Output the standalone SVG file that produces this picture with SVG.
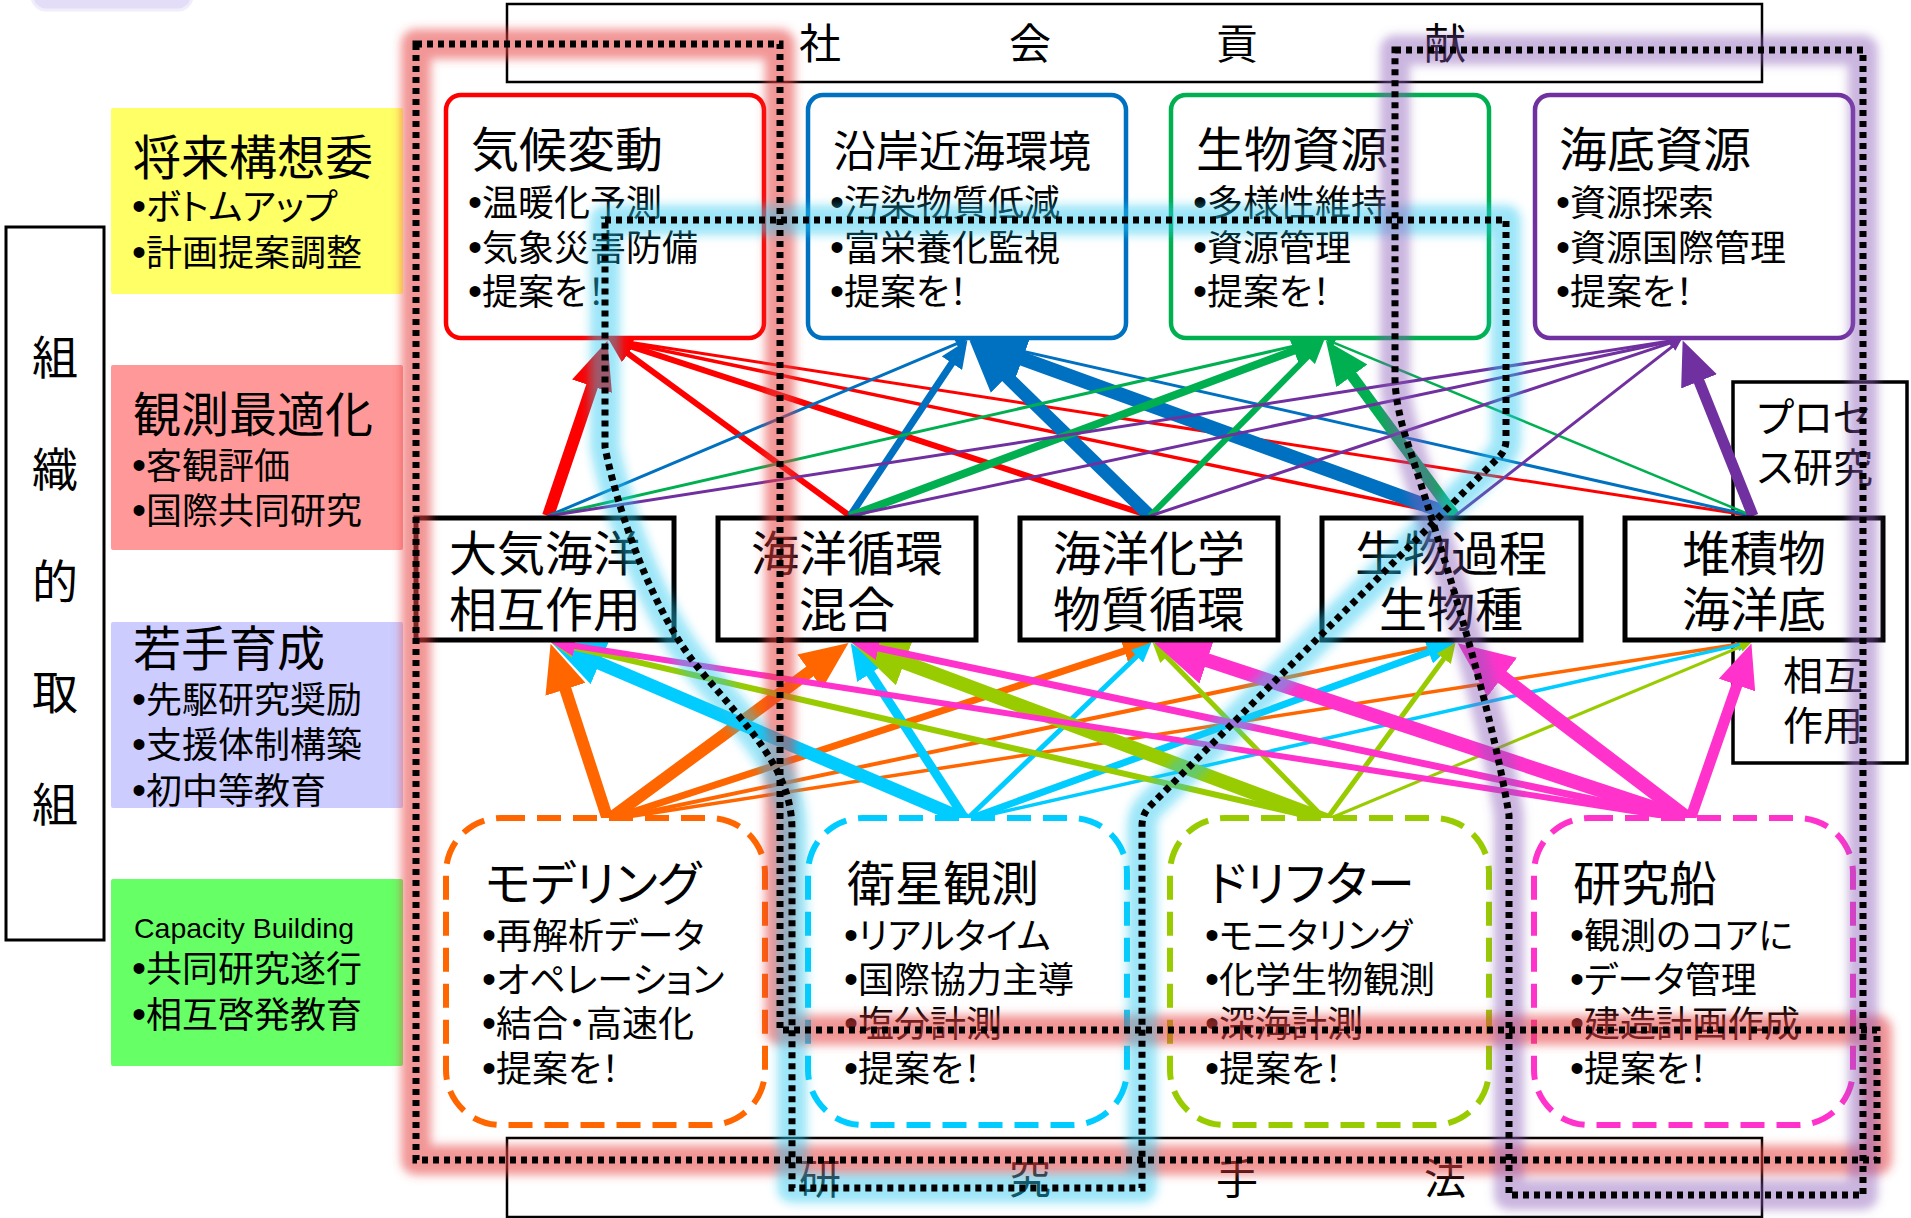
<svg xmlns="http://www.w3.org/2000/svg" width="1911" height="1218" viewBox="0 0 1911 1218">
<defs>
<style>
.t{font-family:"Noto Sans CJK JP","Noto Sans CJK SC",sans-serif;font-feature-settings:"palt";fill:#000}
.bu{font-family:"Liberation Sans",Arial,sans-serif;font-size:40px}
.h{font-size:48px}
.b{font-size:36px}
.m{font-size:48px;text-anchor:middle}
.bn{font-size:42px;text-anchor:middle}
.lb{font-size:46px;text-anchor:middle}
.ps{font-size:40px}
.lat{font-family:"Liberation Sans",Arial,sans-serif;font-size:28px;fill:#000}
.tn{fill:#fff;stroke-width:4.5}
.bnode{fill:#fff;stroke-width:6;stroke-dasharray:24 12}
.mid{fill:#fff;stroke:#000;stroke-width:5}
.frame{fill:#fff;stroke:#000;stroke-width:2.5}
.c{fill:none;stroke-linecap:butt}
.red{stroke:#FF0000;marker-end:url(#ah-red)}
.blue{stroke:#0070C0;marker-end:url(#ah-blue)}
.green{stroke:#00B050;marker-end:url(#ah-green)}
.purple{stroke:#7030A0;marker-end:url(#ah-purple)}
.orange{stroke:#FF6600;marker-end:url(#ah-orange)}
.cyan{stroke:#00CCFF;marker-end:url(#ah-cyan)}
.yg{stroke:#99CC00;marker-end:url(#ah-yg)}
.mag{stroke:#FF33CC;marker-end:url(#ah-mag)}
.glow{fill:none;stroke-width:30;stroke-linejoin:round;filter:url(#blur)}
.dot{fill:none;stroke:#000;stroke-width:7;stroke-dasharray:6 5}
</style>
<filter id="blur" x="-10%" y="-10%" width="120%" height="120%"><feGaussianBlur stdDeviation="5"/></filter>
<marker id="ah-red" viewBox="0 0 8 7" refX="0.3" refY="3.5" markerWidth="4" markerHeight="3.5" markerUnits="strokeWidth" orient="auto"><path d="M0,0 L8,3.5 L0,7 z" fill="#FF0000"/></marker>
<marker id="ah-blue" viewBox="0 0 8 7" refX="0.3" refY="3.5" markerWidth="4" markerHeight="3.5" markerUnits="strokeWidth" orient="auto"><path d="M0,0 L8,3.5 L0,7 z" fill="#0070C0"/></marker>
<marker id="ah-green" viewBox="0 0 8 7" refX="0.3" refY="3.5" markerWidth="4" markerHeight="3.5" markerUnits="strokeWidth" orient="auto"><path d="M0,0 L8,3.5 L0,7 z" fill="#00B050"/></marker>
<marker id="ah-purple" viewBox="0 0 8 7" refX="0.3" refY="3.5" markerWidth="4" markerHeight="3.5" markerUnits="strokeWidth" orient="auto"><path d="M0,0 L8,3.5 L0,7 z" fill="#7030A0"/></marker>
<marker id="ah-orange" viewBox="0 0 8 7" refX="0.3" refY="3.5" markerWidth="4" markerHeight="3.5" markerUnits="strokeWidth" orient="auto"><path d="M0,0 L8,3.5 L0,7 z" fill="#FF6600"/></marker>
<marker id="ah-cyan" viewBox="0 0 8 7" refX="0.3" refY="3.5" markerWidth="4" markerHeight="3.5" markerUnits="strokeWidth" orient="auto"><path d="M0,0 L8,3.5 L0,7 z" fill="#00CCFF"/></marker>
<marker id="ah-yg" viewBox="0 0 8 7" refX="0.3" refY="3.5" markerWidth="4" markerHeight="3.5" markerUnits="strokeWidth" orient="auto"><path d="M0,0 L8,3.5 L0,7 z" fill="#99CC00"/></marker>
<marker id="ah-mag" viewBox="0 0 8 7" refX="0.3" refY="3.5" markerWidth="4" markerHeight="3.5" markerUnits="strokeWidth" orient="auto"><path d="M0,0 L8,3.5 L0,7 z" fill="#FF33CC"/></marker>
</defs>
<rect width="1911" height="1218" fill="#fff"/>

<!-- top-left partial shape -->
<rect x="32" y="-25" width="160" height="35" rx="14" fill="#E4DDF8" stroke="#F1EEFC" stroke-width="3"/>

<!-- banners -->
<g id="banner-top">
<rect class="frame" x="507" y="4" width="1255" height="78"/>
<text class="t bn" x="820" y="59">社</text>
<text class="t bn" x="1030" y="59">会</text>
<text class="t bn" x="1237" y="59">貢</text>
<text class="t bn" x="1445" y="59">献</text>
</g>
<g id="banner-bottom">
<rect class="frame" x="507" y="1138" width="1255" height="79"/>
<text class="t bn" x="820" y="1194">研</text>
<text class="t bn" x="1030" y="1194">究</text>
<text class="t bn" x="1237" y="1194">手</text>
<text class="t bn" x="1445" y="1194">法</text>
</g>

<!-- left vertical label -->
<g id="soshiki">
<rect x="6" y="227" width="98" height="713" fill="#fff" stroke="#000" stroke-width="3"/>
<text class="t lb" x="55" y="374">組</text>
<text class="t lb" x="55" y="486">織</text>
<text class="t lb" x="55" y="598">的</text>
<text class="t lb" x="55" y="709">取</text>
<text class="t lb" x="55" y="821">組</text>
</g>

<!-- side panels -->
<g id="p-shorai">
<rect x="111" y="108" width="292" height="186" rx="2" fill="#FFFF66"/>
<text class="t h" x="133" y="175">将来構想委</text>
<text class="t b" x="132" y="220"><tspan class="bu">•</tspan>ボトムアップ</text>
<text class="t b" x="132" y="266"><tspan class="bu">•</tspan>計画提案調整</text>
</g>
<g id="p-kansoku">
<rect x="111" y="365" width="292" height="185" rx="2" fill="#FF9999"/>
<text class="t h" x="133" y="432">観測最適化</text>
<text class="t b" x="132" y="479"><tspan class="bu">•</tspan>客観評価</text>
<text class="t b" x="132" y="524"><tspan class="bu">•</tspan>国際共同研究</text>
</g>
<g id="p-wakate">
<rect x="111" y="622" width="292" height="186" rx="2" fill="#CCCCFF"/>
<text class="t h" x="133" y="666">若手育成</text>
<text class="t b" x="132" y="713"><tspan class="bu">•</tspan>先駆研究奨励</text>
<text class="t b" x="132" y="758"><tspan class="bu">•</tspan>支援体制構築</text>
<text class="t b" x="132" y="804"><tspan class="bu">•</tspan>初中等教育</text>
</g>
<g id="p-capacity">
<rect x="111" y="879" width="292" height="187" rx="2" fill="#66FF66"/>
<text class="lat" x="134" y="938" textLength="220" lengthAdjust="spacingAndGlyphs">Capacity Building</text>
<text class="t b" x="132" y="982"><tspan class="bu">•</tspan>共同研究遂行</text>
<text class="t b" x="132" y="1028"><tspan class="bu">•</tspan>相互啓発教育</text>
</g>

<!-- process side box -->
<g id="process">
<rect x="1733" y="382" width="174" height="381" fill="#fff" stroke="#000" stroke-width="3.5"/>
<text class="t ps" x="1757" y="432">プロセ</text>
<text class="t ps" x="1757" y="482">ス研究</text>
<text class="t ps" x="1783" y="690">相互</text>
<text class="t ps" x="1783" y="740">作用</text>
</g>

<!-- connectors -->
<g id="connectors" class="c">
<line class="red" x1="548" y1="516" x2="592.6" y2="384.5" stroke-width="12"/>
<line class="red" x1="850" y1="516" x2="627.4" y2="353.2" stroke-width="6"/>
<line class="red" x1="1150" y1="516" x2="630.8" y2="346.4" stroke-width="6"/>
<line class="red" x1="1455" y1="516" x2="621.7" y2="341.9" stroke-width="3.5"/>
<line class="red" x1="1753" y1="516" x2="619.9" y2="340.8" stroke-width="3"/>
<line class="blue" x1="548" y1="516" x2="956.9" y2="343.7" stroke-width="3"/>
<line class="blue" x1="850" y1="516" x2="952.5" y2="362.3" stroke-width="7"/>
<line class="blue" x1="1150" y1="516" x2="1005.3" y2="375.2" stroke-width="13"/>
<line class="blue" x1="1455" y1="516" x2="1020.6" y2="358.1" stroke-width="14"/>
<line class="blue" x1="1753" y1="516" x2="979.7" y2="341.6" stroke-width="3"/>
<line class="green" x1="548" y1="516" x2="1313.3" y2="341.7" stroke-width="3"/>
<line class="green" x1="850" y1="516" x2="1295.0" y2="350.2" stroke-width="8"/>
<line class="green" x1="1150" y1="516" x2="1308.1" y2="356.1" stroke-width="6"/>
<line class="green" x1="1455" y1="516" x2="1351.0" y2="374.5" stroke-width="11"/>
<line class="green" x1="1753" y1="516" x2="1334.2" y2="342.8" stroke-width="2.5"/>
<line class="purple" x1="548" y1="516" x2="1670.1" y2="340.9" stroke-width="3"/>
<line class="purple" x1="850" y1="516" x2="1670.3" y2="341.5" stroke-width="3"/>
<line class="purple" x1="1150" y1="516" x2="1670.6" y2="342.8" stroke-width="3"/>
<line class="purple" x1="1455" y1="516" x2="1672.5" y2="346.4" stroke-width="3"/>
<line class="purple" x1="1753" y1="516" x2="1698.4" y2="379.8" stroke-width="11"/>

<line class="orange" x1="608" y1="820" x2="564.9" y2="687.6" stroke-width="12"/>
<line class="orange" x1="608" y1="820" x2="811.3" y2="670.4" stroke-width="12"/>
<line class="orange" x1="608" y1="820" x2="1125.4" y2="650.7" stroke-width="7"/>
<line class="orange" x1="608" y1="820" x2="1440.3" y2="645.3" stroke-width="4"/>
<line class="orange" x1="608" y1="820" x2="1738.2" y2="644.2" stroke-width="3.5"/>
<line class="cyan" x1="966" y1="820" x2="597.8" y2="662.5" stroke-width="13"/>
<line class="cyan" x1="966" y1="820" x2="869.7" y2="672.2" stroke-width="9"/>
<line class="cyan" x1="966" y1="820" x2="1137.5" y2="655.8" stroke-width="5"/>
<line class="cyan" x1="966" y1="820" x2="1429.7" y2="651.6" stroke-width="7"/>
<line class="cyan" x1="966" y1="820" x2="1738.3" y2="645.1" stroke-width="3.5"/>
<line class="yg" x1="1326" y1="820" x2="573.4" y2="647.4" stroke-width="6"/>
<line class="yg" x1="1326" y1="820" x2="902.5" y2="661.6" stroke-width="14"/>
<line class="yg" x1="1326" y1="820" x2="1166.0" y2="656.3" stroke-width="5"/>
<line class="yg" x1="1326" y1="820" x2="1444.2" y2="658.2" stroke-width="5"/>
<line class="yg" x1="1326" y1="820" x2="1740.9" y2="646.6" stroke-width="3"/>
<line class="mag" x1="1690" y1="820" x2="573.7" y2="645.7" stroke-width="6"/>
<line class="mag" x1="1690" y1="820" x2="877.4" y2="647.8" stroke-width="7"/>
<line class="mag" x1="1690" y1="820" x2="1205.2" y2="659.6" stroke-width="14"/>
<line class="mag" x1="1690" y1="820" x2="1500.6" y2="675.9" stroke-width="14"/>
<line class="mag" x1="1690" y1="820" x2="1737.5" y2="683.5" stroke-width="11"/>
</g>

<!-- middle process boxes -->
<g id="m-taiki"><rect class="mid" x="416" y="518" width="258" height="122"/>
<text class="t m" x="545" y="571">大気海洋</text><text class="t m" x="545" y="627">相互作用</text></g>
<g id="m-junkan"><rect class="mid" x="718" y="518" width="258" height="122"/>
<text class="t m" x="847" y="571">海洋循環</text><text class="t m" x="847" y="627">混合</text></g>
<g id="m-kagaku"><rect class="mid" x="1020" y="518" width="258" height="122"/>
<text class="t m" x="1149" y="571">海洋化学</text><text class="t m" x="1149" y="627">物質循環</text></g>
<g id="m-seibutsu"><rect class="mid" x="1322" y="518" width="259" height="122"/>
<text class="t m" x="1451" y="571">生物過程</text><text class="t m" x="1451" y="627">生物種</text></g>
<g id="m-taiseki"><rect class="mid" x="1625" y="518" width="258" height="122"/>
<text class="t m" x="1754" y="571">堆積物</text><text class="t m" x="1754" y="627">海洋底</text></g>

<!-- top nodes -->
<g id="n-kikou"><rect class="tn" x="446" y="95" width="318" height="243" rx="15" stroke="#FF0000"/>
<text class="t h" x="471" y="167">気候変動</text>
<text class="t b" x="468" y="216"><tspan class="bu">•</tspan>温暖化予測</text>
<text class="t b" x="468" y="261"><tspan class="bu">•</tspan>気象災害防備</text>
<text class="t b" x="468" y="305"><tspan class="bu">•</tspan>提案を！</text></g>
<g id="n-engan"><rect class="tn" x="808" y="95" width="318" height="243" rx="15" stroke="#0070C0"/>
<text class="t h" x="833" y="167" style="font-size:43px">沿岸近海環境</text>
<text class="t b" x="830" y="216"><tspan class="bu">•</tspan>汚染物質低減</text>
<text class="t b" x="830" y="261"><tspan class="bu">•</tspan>富栄養化監視</text>
<text class="t b" x="830" y="305"><tspan class="bu">•</tspan>提案を！</text></g>
<g id="n-seibutsu"><rect class="tn" x="1171" y="95" width="318" height="243" rx="15" stroke="#00B050"/>
<text class="t h" x="1196" y="167">生物資源</text>
<text class="t b" x="1193" y="216"><tspan class="bu">•</tspan>多様性維持</text>
<text class="t b" x="1193" y="261"><tspan class="bu">•</tspan>資源管理</text>
<text class="t b" x="1193" y="305"><tspan class="bu">•</tspan>提案を！</text></g>
<g id="n-kaitei"><rect class="tn" x="1535" y="95" width="318" height="243" rx="15" stroke="#7030A0"/>
<text class="t h" x="1559" y="167">海底資源</text>
<text class="t b" x="1556" y="216"><tspan class="bu">•</tspan>資源探索</text>
<text class="t b" x="1556" y="261"><tspan class="bu">•</tspan>資源国際管理</text>
<text class="t b" x="1556" y="305"><tspan class="bu">•</tspan>提案を！</text></g>

<!-- bottom nodes -->
<g id="n-model"><rect class="bnode" x="446" y="818" width="319" height="307" rx="55" stroke="#FF6600"/>
<text class="t h" x="485" y="901">モデリング</text>
<text class="t b" x="482" y="949"><tspan class="bu">•</tspan>再解析データ</text>
<text class="t b" x="482" y="993"><tspan class="bu">•</tspan>オペレーション</text>
<text class="t b" x="482" y="1037"><tspan class="bu">•</tspan>結合・高速化</text>
<text class="t b" x="482" y="1082"><tspan class="bu">•</tspan>提案を！</text></g>
<g id="n-eisei"><rect class="bnode" x="808" y="818" width="319" height="307" rx="55" stroke="#00CCFF"/>
<text class="t h" x="847" y="901">衛星観測</text>
<text class="t b" x="844" y="949"><tspan class="bu">•</tspan>リアルタイム</text>
<text class="t b" x="844" y="993"><tspan class="bu">•</tspan>国際協力主導</text>
<text class="t b" x="844" y="1037"><tspan class="bu">•</tspan>塩分計測</text>
<text class="t b" x="844" y="1082"><tspan class="bu">•</tspan>提案を！</text></g>
<g id="n-drifter"><rect class="bnode" x="1170" y="818" width="319" height="307" rx="55" stroke="#99CC00"/>
<text class="t h" x="1208" y="901">ドリフター</text>
<text class="t b" x="1205" y="949"><tspan class="bu">•</tspan>モニタリング</text>
<text class="t b" x="1205" y="993"><tspan class="bu">•</tspan>化学生物観測</text>
<text class="t b" x="1205" y="1037"><tspan class="bu">•</tspan>深海計測</text>
<text class="t b" x="1205" y="1082"><tspan class="bu">•</tspan>提案を！</text></g>
<g id="n-ship"><rect class="bnode" x="1534" y="818" width="319" height="307" rx="55" stroke="#FF33CC"/>
<text class="t h" x="1573" y="901">研究船</text>
<text class="t b" x="1570" y="949"><tspan class="bu">•</tspan>観測のコアに</text>
<text class="t b" x="1570" y="993"><tspan class="bu">•</tspan>データ管理</text>
<text class="t b" x="1570" y="1037"><tspan class="bu">•</tspan>建造計画作成</text>
<text class="t b" x="1570" y="1082"><tspan class="bu">•</tspan>提案を！</text></g>

<!-- highlight groups -->
<g id="highlights">
<path class="glow" stroke="#E84040" stroke-opacity="0.55" d="M416,44 H780 V1030 H1877 V1160 H416 Z"/>
<path class="glow" stroke="#20C8F0" stroke-opacity="0.45" d="M605,220 H1506 V440 Q1506,450 1499,457 L1150,806 Q1142,814 1142,826 V1188 H792 V830 C792,770 750,730 700,670 C650,610 615,500 605,447 Z"/>
<path class="glow" stroke="#8A5CB8" stroke-opacity="0.45" d="M1395,50 H1863 V1195 H1509 V815 C1490,700 1445,560 1410,450 Q1396,410 1395,380 Z"/>
<path class="dot" d="M416,44 H780 V1030 H1877 V1160 H416 Z"/>
<path class="dot" d="M605,220 H1506 V440 Q1506,450 1499,457 L1150,806 Q1142,814 1142,826 V1188 H792 V830 C792,770 750,730 700,670 C650,610 615,500 605,447 Z"/>
<path class="dot" d="M1395,50 H1863 V1195 H1509 V815 C1490,700 1445,560 1410,450 Q1396,410 1395,380 Z"/>
</g>
</svg>
